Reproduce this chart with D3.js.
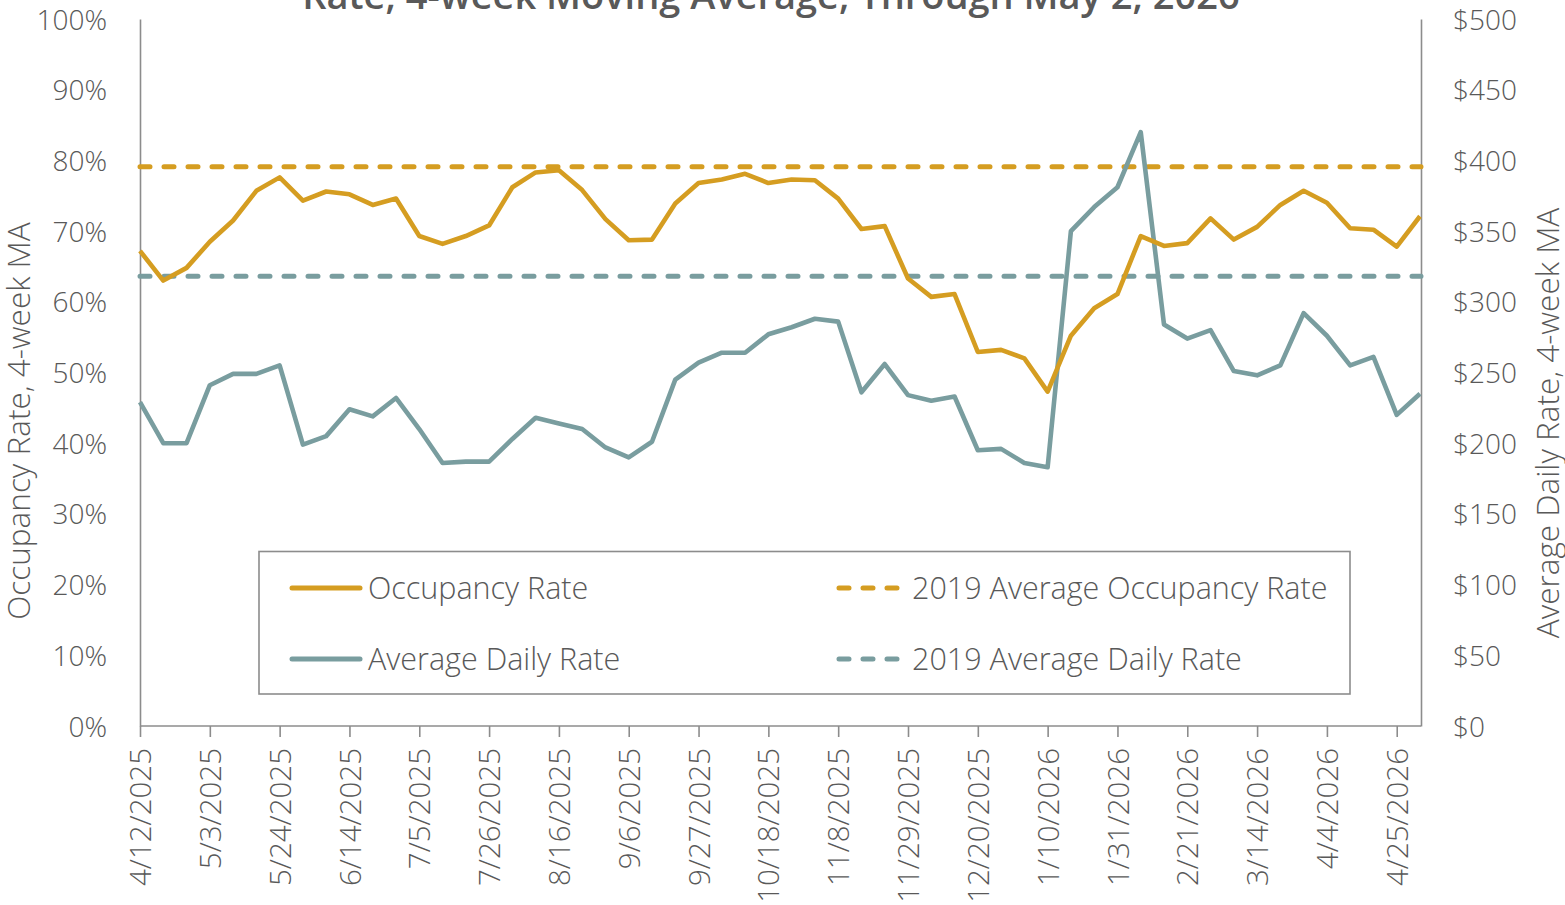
<!DOCTYPE html>
<html>
<head>
<meta charset="utf-8">
<script src="https://cdn.jsdelivr.net/npm/d3@7/dist/d3.min.js"></script>
<style>
  html, body { margin: 0; padding: 0; background: #fff; overflow: hidden; }
  svg { display: block; }
  text { font-family: "Open Sans", "Noto Sans", sans-serif; fill: #595959; }
</style>
</head>
<body>
<svg id="chart" width="1565" height="905"></svg>
<script>
// ---------------- DATA ----------------
const dates = [
  "4/12/2025","4/19/2025","4/26/2025","5/3/2025","5/10/2025","5/17/2025","5/24/2025","5/31/2025",
  "6/7/2025","6/14/2025","6/21/2025","6/28/2025","7/5/2025","7/12/2025","7/19/2025","7/26/2025",
  "8/2/2025","8/9/2025","8/16/2025","8/23/2025","8/30/2025","9/6/2025","9/13/2025","9/20/2025",
  "9/27/2025","10/4/2025","10/11/2025","10/18/2025","10/25/2025","11/1/2025","11/8/2025","11/15/2025",
  "11/22/2025","11/29/2025","12/6/2025","12/13/2025","12/20/2025","12/27/2025","1/3/2026","1/10/2026",
  "1/17/2026","1/24/2026","1/31/2026","2/7/2026","2/14/2026","2/21/2026","2/28/2026","3/7/2026",
  "3/14/2026","3/21/2026","3/28/2026","4/4/2026","4/11/2026","4/18/2026","4/25/2026","5/2/2026"
];
const tickLabels = ["4/12/2025","5/3/2025","5/24/2025","6/14/2025","7/5/2025","7/26/2025","8/16/2025",
  "9/6/2025","9/27/2025","10/18/2025","11/8/2025","11/29/2025","12/20/2025","1/10/2026","1/31/2026",
  "2/21/2026","3/14/2026","4/4/2026","4/25/2026"];

// Occupancy rate, % (4-week MA)
const occupancy = [
  67.2, 63.0, 64.8, 68.5, 71.5, 75.7, 77.6, 74.3, 75.6, 75.2, 73.7, 74.6, 69.3, 68.2, 69.3, 70.8,
  76.2, 78.3, 78.6, 75.8, 71.7, 68.7, 68.8, 73.9, 76.8, 77.3, 78.1, 76.8, 77.3, 77.2, 74.6, 70.3,
  70.7, 63.3, 60.7, 61.1, 52.9, 53.2, 52.0, 47.3, 55.2, 59.1, 61.1, 69.3, 67.9, 68.3, 71.8, 68.8,
  70.6, 73.7, 75.7, 74.0, 70.4, 70.2, 67.8, 72.1
];
// Average daily rate, $ (4-week MA)
const adr = [
  229, 200, 200, 241, 249, 249, 255, 199, 205, 224, 219, 232, 210, 186, 187, 187,
  203, 218, 214, 210, 197, 190, 201, 245, 257, 264, 264, 277, 282, 288, 286, 236,
  256, 234, 230, 233, 195, 196, 186, 183, 350, 367, 381, 420, 284, 274, 280, 251,
  248, 255, 292, 276, 255, 261, 220, 235
];
const occ2019 = 79.1;   // 2019 average occupancy rate, %
const adr2019 = 318;    // 2019 average daily rate, $

const leftTicks = [0,10,20,30,40,50,60,70,80,90,100];
const rightTicks = [0,50,100,150,200,250,300,350,400,450,500];

const titleText = "Rate, 4-week Moving Average, Through May 2, 2026";
const leftTitle = "Occupancy Rate, 4-week MA";
const rightTitle = "Average Daily Rate, 4-week MA";
const legendItems = [
  {label: "Occupancy Rate", key: "occ", dashed: false},
  {label: "Average Daily Rate", key: "adr", dashed: false},
  {label: "2019 Average Occupancy Rate", key: "occ", dashed: true},
  {label: "2019 Average Daily Rate", key: "adr", dashed: true}
];

// ---------------- LAYOUT ----------------
const C = { occ: "#D59D21", adr: "#799D9F", axis: "#8C8C8C" };
const L = 140, R = 1421, T = 19, B = 726;
const svg = d3.select("#chart");

const x = d3.scalePoint().domain(dates).range([L, 1420]);
const yL = d3.scaleLinear().domain([0, 100]).range([B, T]);
const yR = d3.scaleLinear().domain([0, 500]).range([B, T]);

// Title (top line clipped as in source)
svg.append("text").attr("x", 771).attr("y", 9).attr("text-anchor", "middle")
  .style("font-size", "38px").style("font-weight", 600).style("fill", "#595959")
  .text(titleText);

// Left axis
const gl = svg.append("g").attr("transform", `translate(${L},0)`)
  .call(d3.axisLeft(yL).tickValues(leftTicks).tickSize(0).tickPadding(33).tickFormat(d => d + "%"));
// Right axis
const gr = svg.append("g").attr("transform", `translate(${R},0)`)
  .call(d3.axisRight(yR).tickValues(rightTicks).tickSize(0).tickPadding(32).tickFormat(d => "$" + d));
// Bottom axis
const gb = svg.append("g").attr("transform", `translate(0,${B})`)
  .call(d3.axisBottom(x).tickValues(tickLabels).tickSize(11).tickSizeOuter(0));

[gl, gr, gb].forEach(g => {
  g.select(".domain").attr("stroke", C.axis).attr("stroke-width", 1.6);
  g.selectAll(".tick line").attr("stroke", C.axis).attr("stroke-width", 1.6);
  g.selectAll("text").style("font-size", "28px").style("font-weight", 300)
    .style("fill", "#595959").attr("font-family", null);
});
gl.selectAll(".tick text").attr("dy", "0.36em");
gr.selectAll(".tick text").attr("dy", "0.36em");
gb.select(".domain").attr("d", `M${L},0H${R}`);
gb.selectAll(".tick text")
  .style("font-size", "29.5px")
  .attr("transform", "rotate(-90)")
  .attr("text-anchor", "end")
  .attr("x", -22).attr("y", 0).attr("dy", "0.36em");

// Axis titles
svg.append("text").attr("transform", `translate(30,${421}) rotate(-90)`)
  .attr("text-anchor", "middle").style("font-size", "31.5px").style("font-weight", 300)
  .text(leftTitle);
svg.append("text").attr("transform", `translate(1559,${423}) rotate(-90)`)
  .attr("text-anchor", "middle").style("font-size", "31.5px").style("font-weight", 300)
  .text(rightTitle);

// Reference dashed lines
const dash = "10,14";
svg.append("line").attr("x1", L).attr("x2", R).attr("y1", yL(occ2019)).attr("y2", yL(occ2019))
  .attr("stroke", C.occ).attr("stroke-width", 5).attr("stroke-linecap", "round").attr("stroke-dasharray", dash);
svg.append("line").attr("x1", L).attr("x2", R).attr("y1", yR(adr2019)).attr("y2", yR(adr2019))
  .attr("stroke", C.adr).attr("stroke-width", 5).attr("stroke-linecap", "round").attr("stroke-dasharray", dash);

// Series lines
const lineOcc = d3.line().x((d, i) => x(dates[i])).y(d => yL(d));
const lineAdr = d3.line().x((d, i) => x(dates[i])).y(d => yR(d));
svg.append("path").datum(adr).attr("d", lineAdr).attr("fill", "none")
  .attr("stroke", C.adr).attr("stroke-width", 4.6).attr("stroke-linejoin", "round");
svg.append("path").datum(occupancy).attr("d", lineOcc).attr("fill", "none")
  .attr("stroke", C.occ).attr("stroke-width", 4.6).attr("stroke-linejoin", "round");

// Legend
const lg = svg.append("g");
lg.append("rect").attr("x", 259).attr("y", 551.5).attr("width", 1091).attr("height", 142.5)
  .attr("fill", "#fff").attr("stroke", "#8C8C8C").attr("stroke-width", 1.6);
const legPos = [
  {x1: 292, x2: 360, tx: 368, y: 588},
  {x1: 292, x2: 360, tx: 368, y: 659},
  {x1: 839, x2: 899, tx: 912, y: 588},
  {x1: 839, x2: 899, tx: 912, y: 659}
];
legendItems.forEach((it, i) => {
  const p = legPos[i];
  const ln = lg.append("line").attr("x1", p.x1).attr("x2", p.x2).attr("y1", p.y).attr("y2", p.y)
    .attr("stroke", C[it.key]).attr("stroke-width", 5).attr("stroke-linecap", "round");
  if (it.dashed) ln.attr("stroke-dasharray", dash);
  lg.append("text").attr("x", p.tx).attr("y", p.y).attr("dy", "0.36em")
    .style("font-size", "30.5px").style("font-weight", 300).text(it.label);
});
</script>
</body>
</html>
